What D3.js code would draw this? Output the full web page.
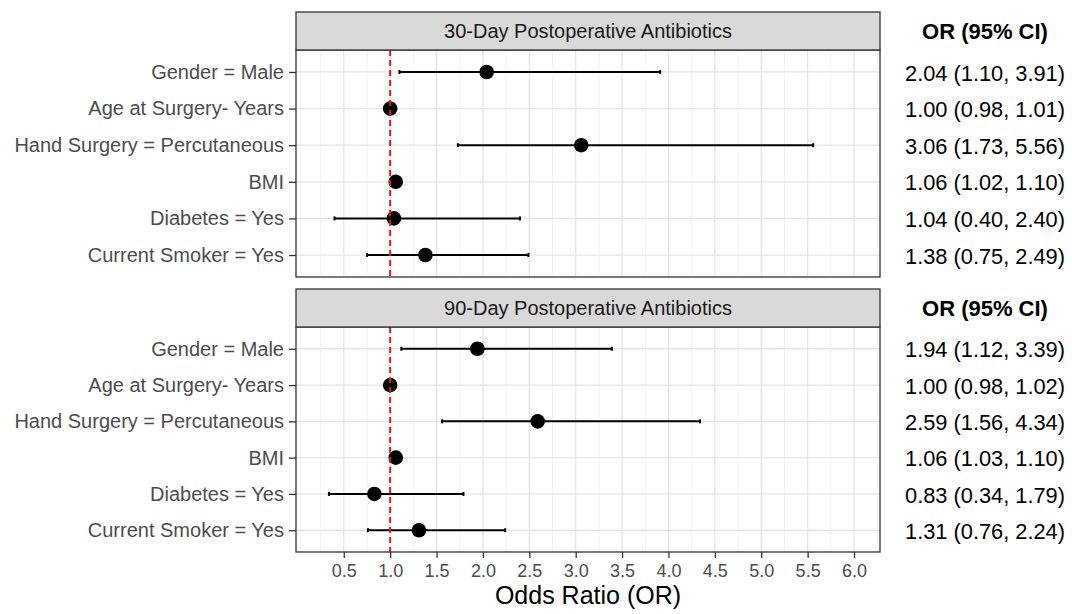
<!DOCTYPE html>
<html>
<head>
<meta charset="utf-8">
<script src="https://cdn.jsdelivr.net/npm/d3@7"></script>
<style>
  body { margin: 0; background: #fff; }
  svg { font-family: "Liberation Sans", Arial, sans-serif; }
</style>
</head>
<body>
<svg id="chart" width="1072" height="614"></svg>
<script>
// data
const variables = ['Gender = Male', 'Age at Surgery- Years', 'Hand Surgery = Percutaneous',
                   'BMI', 'Diabetes = Yes', 'Current Smoker = Yes'];
const panelTitles = ['30-Day Postoperative Antibiotics', '90-Day Postoperative Antibiotics'];
const or30 = [2.04, 1.00, 3.06, 1.06, 1.04, 1.38];
const lo30 = [1.10, 0.98, 1.73, 1.02, 0.40, 0.75];
const hi30 = [3.91, 1.01, 5.56, 1.10, 2.40, 2.49];
const or90 = [1.94, 1.00, 2.59, 1.06, 0.83, 1.31];
const lo90 = [1.12, 0.98, 1.56, 1.03, 0.34, 0.76];
const hi90 = [3.39, 1.02, 4.34, 1.10, 1.79, 2.24];
const xTicks = [0.5, 1.0, 1.5, 2.0, 2.5, 3.0, 3.5, 4.0, 4.5, 5.0, 5.5, 6.0];
const xMinor = d3.range(0.25, 6.3, 0.5);

const svg = d3.select('#chart');
const left = 296, right = 880;

const x = d3.scaleLinear().domain([-0.015, 6.28]).range([left, right]);

const panels = [
  { title: panelTitles[0], strip: [12, 50], plot: [50, 277], or: or30, lo: lo30, hi: hi30 },
  { title: panelTitles[1], strip: [289, 327], plot: [327, 552], or: or90, lo: lo90, hi: hi90 }
];

const fmt = d3.format('.2f');

panels.forEach(function(p, pi) {
  const y = d3.scalePoint().domain(variables).range(p.plot).padding(0.6);
  const rows = variables.map((v, i) => ({ v: v, or: p.or[i], lo: p.lo[i], hi: p.hi[i] }));
  const g = svg.append('g').attr('class', 'panel');

  // background grid
  g.selectAll('.minor').data(xMinor).enter().append('line')
    .attr('x1', d => x(d)).attr('x2', d => x(d))
    .attr('y1', p.plot[0]).attr('y2', p.plot[1])
    .attr('stroke', '#efefef').attr('stroke-width', 0.8);
  g.selectAll('.major').data(xTicks).enter().append('line')
    .attr('x1', d => x(d)).attr('x2', d => x(d))
    .attr('y1', p.plot[0]).attr('y2', p.plot[1])
    .attr('stroke', '#e6e6e6').attr('stroke-width', 1.3);
  g.selectAll('.hgrid').data(variables).enter().append('line')
    .attr('x1', left).attr('x2', right)
    .attr('y1', d => y(d)).attr('y2', d => y(d))
    .attr('stroke', '#e6e6e6').attr('stroke-width', 1.3);

  // error bars
  const eb = g.selectAll('.eb').data(rows).enter().append('g');
  eb.append('line')
    .attr('x1', d => x(d.lo)).attr('x2', d => x(d.hi))
    .attr('y1', d => y(d.v)).attr('y2', d => y(d.v))
    .attr('stroke', '#000').attr('stroke-width', 2);
  eb.append('line')
    .attr('x1', d => x(d.lo)).attr('x2', d => x(d.lo))
    .attr('y1', d => y(d.v) - 2).attr('y2', d => y(d.v) + 2)
    .attr('stroke', '#000').attr('stroke-width', 2);
  eb.append('line')
    .attr('x1', d => x(d.hi)).attr('x2', d => x(d.hi))
    .attr('y1', d => y(d.v) - 2).attr('y2', d => y(d.v) + 2)
    .attr('stroke', '#000').attr('stroke-width', 2);

  // points
  g.selectAll('.pt').data(rows).enter().append('circle')
    .attr('cx', d => x(d.or)).attr('cy', d => y(d.v))
    .attr('r', 7.3).attr('fill', '#000');

  // reference line at OR = 1
  g.append('line')
    .attr('x1', x(1)).attr('x2', x(1))
    .attr('y1', p.plot[0]).attr('y2', p.plot[1])
    .attr('stroke', '#e41a1c').attr('stroke-width', 2)
    .attr('stroke-dasharray', '6,4');

  // panel border
  g.append('rect')
    .attr('x', left).attr('y', p.plot[0])
    .attr('width', right - left).attr('height', p.plot[1] - p.plot[0])
    .attr('fill', 'none').attr('stroke', '#333').attr('stroke-width', 1.3);

  // strip
  g.append('rect')
    .attr('x', left).attr('y', p.strip[0])
    .attr('width', right - left).attr('height', p.strip[1] - p.strip[0])
    .attr('fill', '#d9d9d9').attr('stroke', '#333').attr('stroke-width', 1.3);
  g.append('text')
    .attr('x', (left + right) / 2).attr('y', (p.strip[0] + p.strip[1]) / 2)
    .attr('dy', '0.35em').attr('text-anchor', 'middle')
    .attr('font-size', 20).attr('fill', '#1a1a1a')
    .text(p.title);

  // y axis
  const ya = g.append('g').attr('transform', `translate(${left},0)`)
    .call(d3.axisLeft(y).tickSize(7).tickPadding(5));
  ya.select('.domain').remove();
  ya.selectAll('.tick line').attr('stroke', '#333').attr('stroke-width', 1.3);
  ya.selectAll('.tick text').attr('font-size', 20).attr('fill', '#4d4d4d')
    .attr('font-family', '"Liberation Sans", Arial, sans-serif');

  // OR table column
  g.append('text')
    .attr('x', 985).attr('y', (p.strip[0] + p.strip[1]) / 2)
    .attr('dy', '0.35em').attr('text-anchor', 'middle')
    .attr('font-size', 22).attr('font-weight', 'bold').attr('fill', '#000')
    .text('OR (95% CI)');
  g.selectAll('.ortxt').data(rows).enter().append('text')
    .attr('x', 985).attr('y', d => y(d.v) + 1)
    .attr('dy', '0.35em').attr('text-anchor', 'middle')
    .attr('font-size', 21.8).attr('fill', '#000')
    .text(d => `${fmt(d.or)} (${fmt(d.lo)}, ${fmt(d.hi)})`);

  // x axis only under last panel
  if (pi === panels.length - 1) {
    const xa = g.append('g').attr('transform', `translate(0,${p.plot[1]})`)
      .call(d3.axisBottom(x).tickValues(xTicks).tickFormat(d3.format('.1f'))
        .tickSize(6).tickPadding(6));
    xa.select('.domain').remove();
    xa.selectAll('.tick line').attr('stroke', '#333').attr('stroke-width', 1.3);
    xa.selectAll('.tick text').attr('font-size', 18).attr('fill', '#4d4d4d')
      .attr('font-family', '"Liberation Sans", Arial, sans-serif');
  }
});

svg.append('text')
  .attr('x', (left + right) / 2).attr('y', 604)
  .attr('text-anchor', 'middle')
  .attr('font-size', 25).attr('fill', '#000')
  .text('Odds Ratio (OR)');
</script>
</body>
</html>
